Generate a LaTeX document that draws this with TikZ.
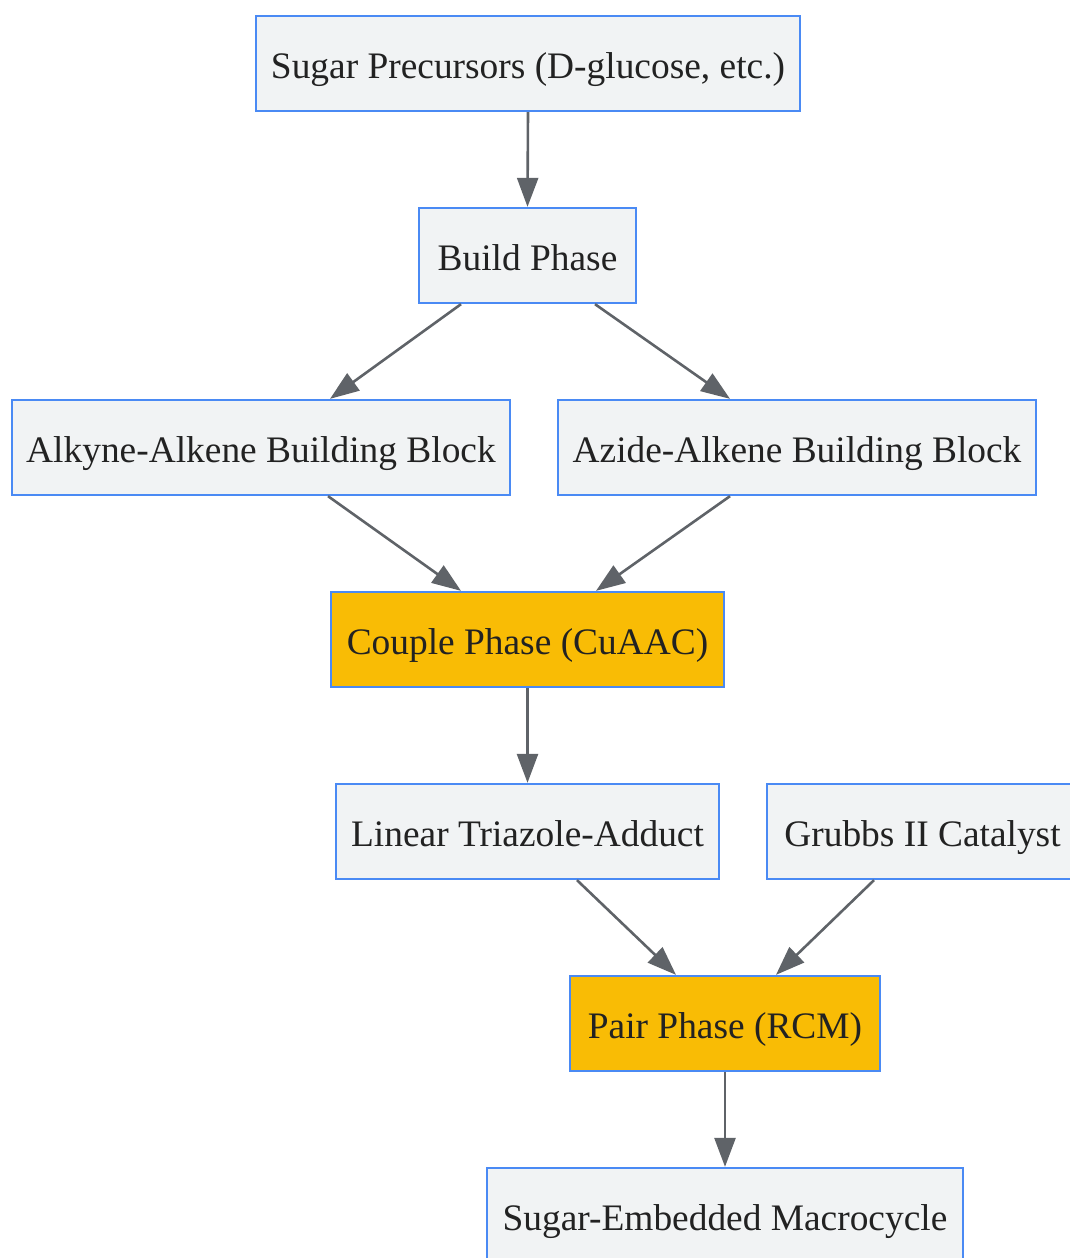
\documentclass[tikz,border=0pt]{standalone}
\usepackage{fontspec}
\setmainfont{Liberation Serif}
\usepackage{tikz}
\usetikzlibrary{arrows.meta}
\usetikzlibrary{positioning}
\definecolor{boxfill}{HTML}{F1F3F4}
\definecolor{boxline}{HTML}{4A8AF4}
\definecolor{phasefill}{HTML}{F9BC05}
\definecolor{arrowgray}{HTML}{5F6368}
\definecolor{txt}{HTML}{222222}
\tikzstyle{block}=[draw=boxline,fill=boxfill,line width=2.3pt,rectangle,minimum height=95pt,inner sep=0pt,text height=36pt,text depth=7pt,text=txt,font=\fontsize{37.4}{44}\selectfont]
\tikzstyle{phase}=[block,fill=phasefill]
\tikzstyle{link}=[draw=arrowgray,line width=2.6pt,-{Triangle[length=29pt,width=21pt]}]

\begin{document}
\begin{tikzpicture}[x=1pt,y=-1pt]
\useasboundingbox (0,0) rectangle (1070,1258);
\node [block,minimum width=544pt] (s) at (528,63.5) {Sugar Precursors (D-glucose, etc.)};
\node [block,minimum width=217pt] (b) at (527.5,255.5) {Build Phase};
\node [block,minimum width=498pt] (alk) at (261,447.5) {Alkyne-Alkene Building Block};
\node [block,minimum width=478pt] (az) at (797,447.5) {Azide-Alkene Building Block};
\node [phase,minimum width=393pt] (cpl) at (527.5,639.5) {Couple Phase (CuAAC)};
\node [block,minimum width=383pt] (lin) at (527.5,831.5) {Linear Triazole-Adduct};
\node [block,minimum width=311pt] (grb) at (922.5,831.5) {Grubbs II Catalyst};
\node [phase,minimum width=310pt] (pair) at (725,1023.5) {Pair Phase (RCM)};
\node [block,minimum width=476pt] (mac) at (725,1215.5) {Sugar-Embedded Macrocycle};

\draw [link] (s.south) -- (b.north);
\draw [link] ([xshift=-66.5pt]b.south) -- ([xshift=69pt]alk.north);
\draw [link] ([xshift=67.5pt]b.south) -- ([xshift=-67pt]az.north);
\draw [link] ([xshift=67pt]alk.south) -- ([xshift=-66.5pt]cpl.north);
\draw [link] ([xshift=-67pt]az.south) -- ([xshift=68.5pt]cpl.north);
\draw [link] (cpl.south) -- (lin.north);
\draw [link] ([xshift=49.5pt]lin.south) -- ([xshift=-49pt]pair.north);
\draw [link] ([xshift=-48.5pt]grb.south) -- ([xshift=51pt]pair.north);
\draw [link] (pair.south) -- (mac.north);
\end{tikzpicture}
\end{document}
